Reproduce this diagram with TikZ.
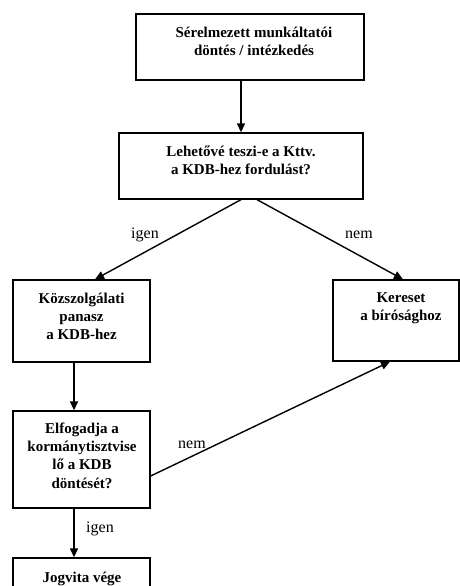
\documentclass[tikz,border=0pt]{standalone}
\usepackage{fontspec}
\setmainfont{Liberation Serif}
\usetikzlibrary{arrows.meta,calc}
\begin{document}
\begin{tikzpicture}[x=1pt,y=-1pt,
  box/.style={draw=black,line width=1.3pt,inner sep=0pt},
  boxtext/.style={inner sep=0pt,align=center,anchor=north,font=\fontsize{15}{18.3}\selectfont\bfseries},
  conn/.style={line width=1.4pt,-{Triangle[length=9pt,width=8pt]}},
  lbl/.style={inner sep=0pt,anchor=base,font=\fontsize{16}{19}\selectfont}]
\useasboundingbox (0,0) rectangle (460,586);
% boxes
\node[box,minimum width=228pt,minimum height=66pt] (b1) at (250,47) {};
\node[box,minimum width=244pt,minimum height=66pt] (b2) at (241,166) {};
\node[box,minimum width=137pt,minimum height=82pt] (b3) at (81.5,321) {};
\node[box,minimum width=126pt,minimum height=81pt] (b4) at (396,320.5) {};
\node[box,minimum width=137pt,minimum height=97pt] (b5) at (81.5,459.5) {};
\node[box,minimum width=137pt,minimum height=47pt] (b6) at (81.5,581.5) {};
% texts
\node[boxtext] (t1) at (254,25) {\rule{0pt}{12pt}Sérelmezett munkáltatói\\döntés / intézkedés};
\node[boxtext] (t2) at (241,144) {\rule{0pt}{12pt}Lehetővé teszi-e a Kttv.\\a KDB-hez fordulást?};
\node[boxtext] (t3) at (81.5,291) {\rule{0pt}{12pt}Közszolgálati\\panasz\\a KDB-hez};
\node[boxtext] (t4) at (401,290) {\rule{0pt}{12pt}Kereset\\a bírósághoz};
\node[boxtext] (t5) at (82,421) {\rule{0pt}{12pt}Elfogadja a\\kormánytisztvise\\lő a KDB\\döntését?};
\node[boxtext] (t6) at (82,570) {\rule{0pt}{12pt}Jogvita vége};
% connectors
\draw[conn] (b1.south -| b2.north) -- (b2.north);
\draw[conn] (b2.south) -- ([xshift=13.5pt]b3.north);
\draw[conn] ([xshift=16pt]b2.south) -- ([xshift=7pt]b4.north);
\draw[conn] ([xshift=-7.5pt]b3.south) -- ([xshift=-7.5pt]b5.north);
\draw[conn] ([xshift=-7.5pt]b5.south) -- ([xshift=-7.5pt]b6.north);
\draw[conn] ([yshift=-16.5pt]b5.east) -- ([xshift=-6pt]b4.south);
% labels
\node[lbl] (l1) at (145,238) {igen};
\node[lbl] (l2) at (359,238) {nem};
\node[lbl] (l3) at (192,448) {nem};
\node[lbl] (l4) at (100,532) {igen};
\end{tikzpicture}
\end{document}
